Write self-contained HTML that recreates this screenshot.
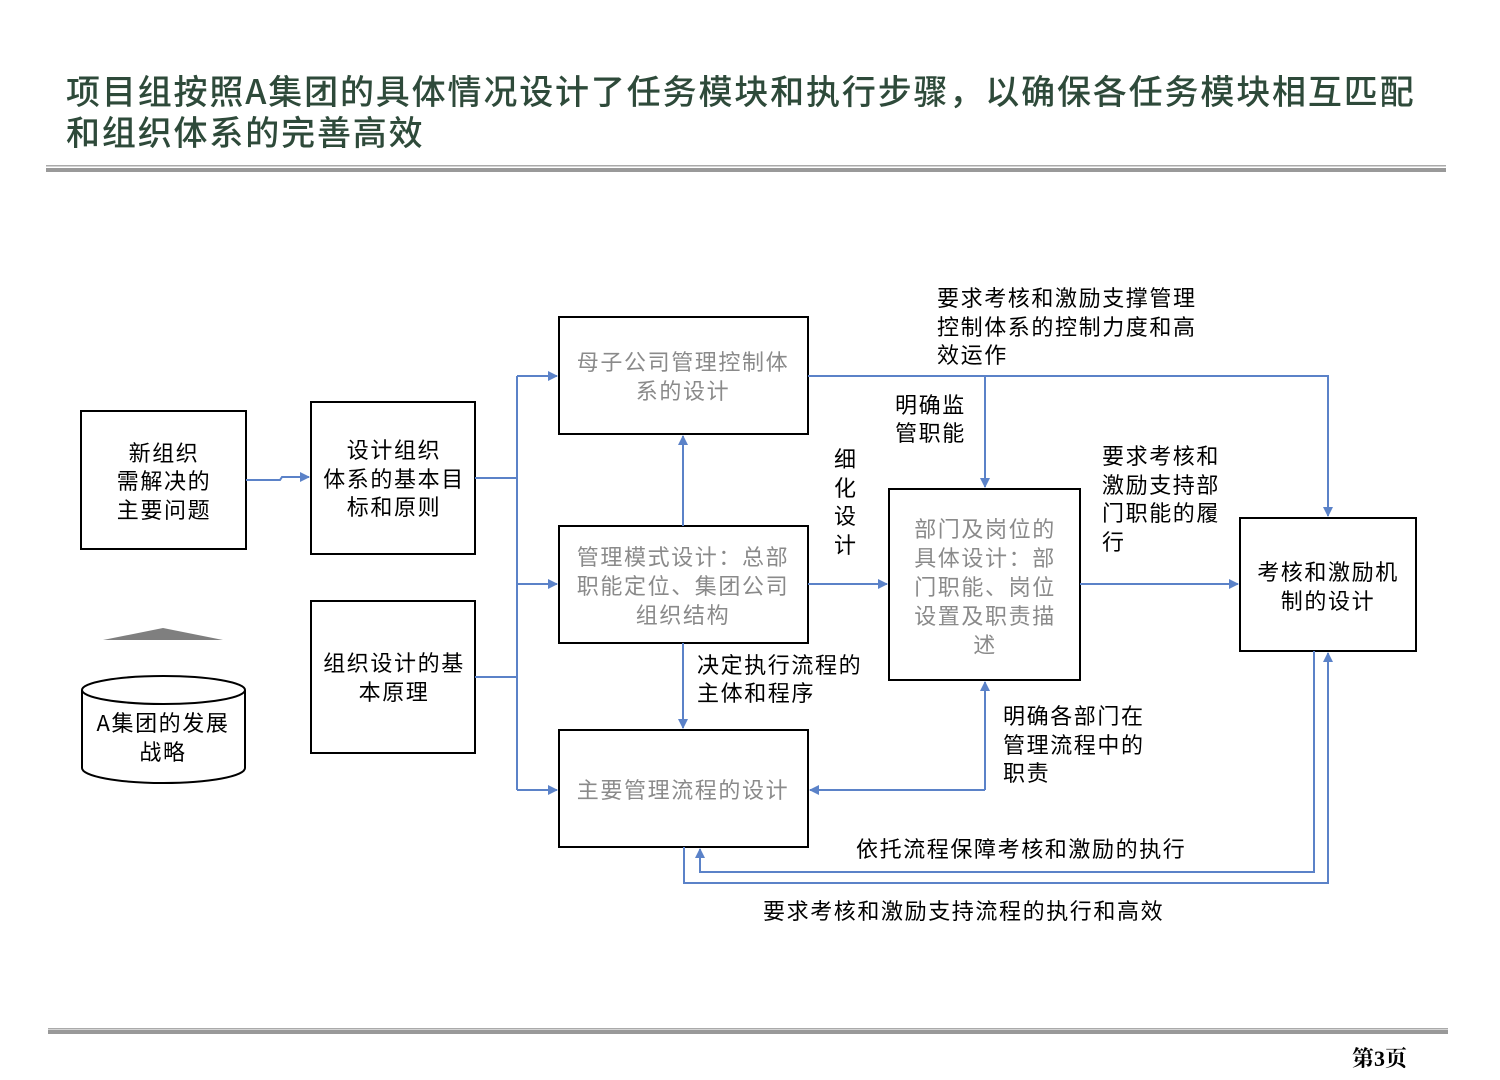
<!DOCTYPE html>
<html><head><meta charset="utf-8"><style>
html,body{margin:0;padding:0;background:#fff;}
svg{display:block;}
text{font-family:"Noto Sans CJK SC","Liberation Sans",sans-serif;font-size:22px;letter-spacing:1.6px;fill:#000;}
.g{fill:#8a8a8a;}
.t{font-family:"Noto Sans CJK SC",sans-serif;font-size:34px;letter-spacing:1.85px;fill:#2e4a3a;font-weight:500;}
</style></head><body>
<svg width="1500" height="1080" viewBox="0 0 1500 1080" xmlns="http://www.w3.org/2000/svg">
<defs>
<marker id="a" markerWidth="10" markerHeight="10" refX="9" refY="5" orient="auto" markerUnits="userSpaceOnUse"><path d="M0,0 L10,5 L0,10 z" fill="#5b82c8"/></marker>
</defs>
<text class="t" x="66" y="104">项目组按照A集团的具体情况设计了任务模块和执行步骤，以确保各任务模块相互匹配</text>
<text class="t" x="66" y="145">和组织体系的完善高效</text>
<rect x="46" y="165" width="1400" height="1.5" fill="#aaa"/>
<rect x="46" y="168" width="1400" height="4" fill="#999"/>
<rect x="48" y="1028" width="1400" height="1.5" fill="#aaa"/>
<rect x="48" y="1030" width="1400" height="4" fill="#999"/>
<text x="1352" y="1066" style="font-family:'Liberation Serif','Noto Serif CJK SC',serif;font-weight:bold;font-size:22px;letter-spacing:0">第3页</text>

<g fill="none" stroke="#000" stroke-width="2">
<rect x="81" y="411" width="165" height="138"/>
<rect x="311" y="402" width="164" height="152"/>
<rect x="311" y="601" width="164" height="152"/>
<rect x="559" y="317" width="249" height="117"/>
<rect x="559" y="526" width="249" height="117"/>
<rect x="559" y="730" width="249" height="117"/>
<rect x="889" y="489" width="191" height="191"/>
<rect x="1240" y="518" width="176" height="133"/>
<path d="M82,690 L82,768 A81.5,15 0 0 0 245,768 L245,690"/>
<ellipse cx="163.5" cy="690" rx="81.5" ry="14"/>
</g>
<path d="M103,640 L163,628 L223,640 z" fill="#7f7f7f"/>

<g fill="none" stroke="#5b82c8" stroke-width="2">
<path d="M246,480 L280,480 L282,477 L309,477" marker-end="url(#a)"/>
<path d="M475,478 L517,478 M475,677 L517,677 M517,376 L517,790"/>
<path d="M517,376 L557,376" marker-end="url(#a)"/>
<path d="M517,584 L557,584" marker-end="url(#a)"/>
<path d="M517,790 L557,790" marker-end="url(#a)"/>
<path d="M683,526 L683,436" marker-end="url(#a)"/>
<path d="M683,643 L683,728" marker-end="url(#a)"/>
<path d="M808,584 L887,584" marker-end="url(#a)"/>
<path d="M808,376 L1328,376 L1328,516" marker-end="url(#a)"/>
<path d="M985,376 L985,487" marker-end="url(#a)"/>
<path d="M985,790 L985,682" marker-end="url(#a)"/>
<path d="M985,790 L810,790" marker-end="url(#a)"/>
<path d="M1080,584 L1238,584" marker-end="url(#a)"/>
<path d="M1314,651 L1314,872 L700,872 L700,849" marker-end="url(#a)"/>
<path d="M684,847 L684,883 L1328,883 L1328,653" marker-end="url(#a)"/>
</g>

<g text-anchor="middle">
<text x="164" y="461">新组织</text><text x="164" y="489">需解决的</text><text x="164" y="518">主要问题</text>
<text x="394" y="458">设计组织</text><text x="394" y="487">体系的基本目</text><text x="394" y="515">标和原则</text>
<text x="394" y="671">组织设计的基</text><text x="394" y="700">本原理</text>
<text x="163" y="731">A集团的发展</text><text x="163" y="760">战略</text>
<text class="g" x="683" y="370">母子公司管理控制体</text><text class="g" x="683" y="399">系的设计</text>
<text class="g" x="683" y="565">管理模式设计：总部</text><text class="g" x="683" y="594">职能定位、集团公司</text><text class="g" x="683" y="623">组织结构</text>
<text class="g" x="683" y="798">主要管理流程的设计</text>
<text class="g" x="985" y="537">部门及岗位的</text><text class="g" x="985" y="566">具体设计：部</text><text class="g" x="985" y="595">门职能、岗位</text><text class="g" x="985" y="624">设置及职责描</text><text class="g" x="985" y="653">述</text>
<text x="1328" y="580">考核和激励机</text><text x="1328" y="609">制的设计</text>
</g>
<g>
<text x="937" y="306">要求考核和激励支撑管理</text><text x="937" y="335">控制体系的控制力度和高</text><text x="937" y="363">效运作</text>
<text x="895" y="413">明确监</text><text x="895" y="441">管职能</text>
<text x="834" y="467">细</text><text x="834" y="496">化</text><text x="834" y="524">设</text><text x="834" y="553">计</text>
<text x="1102" y="464">要求考核和</text><text x="1102" y="493">激励支持部</text><text x="1102" y="521">门职能的履</text><text x="1102" y="550">行</text>
<text x="697" y="673">决定执行流程的</text><text x="697" y="701">主体和程序</text>
<text x="1003" y="724">明确各部门在</text><text x="1003" y="753">管理流程中的</text><text x="1003" y="781">职责</text>
<text x="856" y="857">依托流程保障考核和激励的执行</text>
<text x="763" y="919">要求考核和激励支持流程的执行和高效</text>
</g>
</svg>
</body></html>
